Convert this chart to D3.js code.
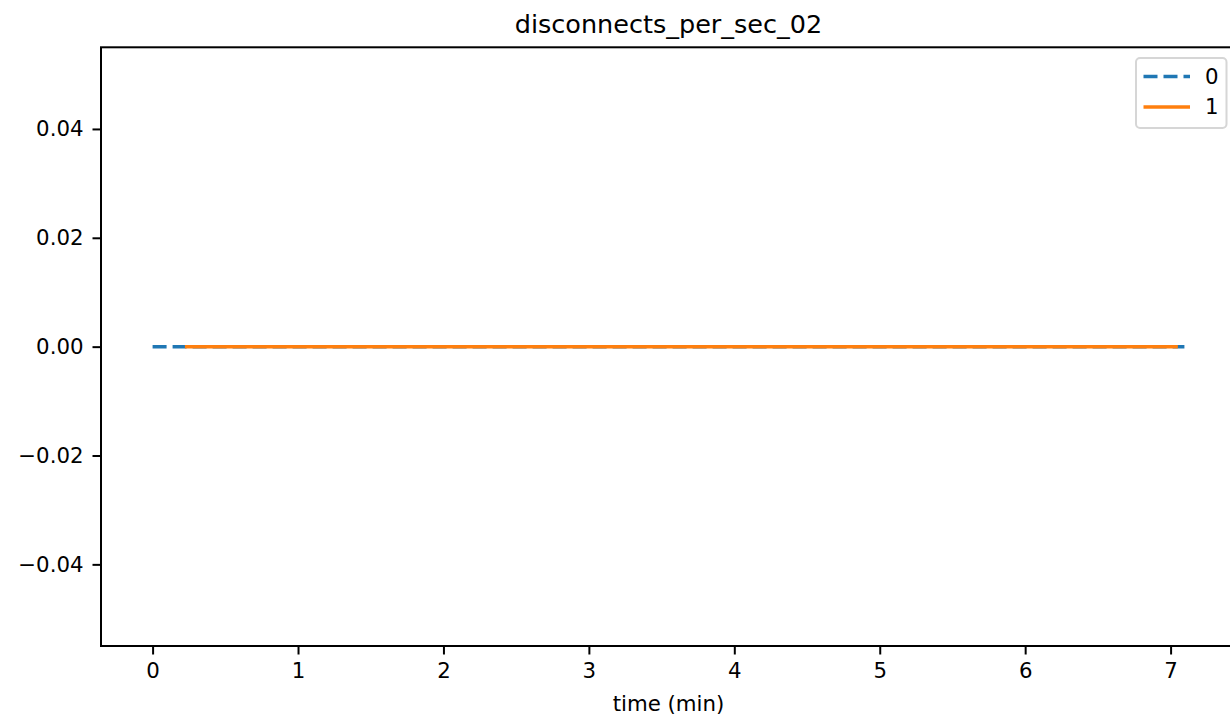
<!DOCTYPE html>
<html>
<head>
<meta charset="utf-8">
<script src="https://cdn.jsdelivr.net/npm/d3@7"></script>
<style>
  html, body { margin: 0; padding: 0; background: #fff; }
  svg { display: block; font-family: "DejaVu Sans", sans-serif; }
</style>
</head>
<body>
<svg id="chart" width="1230" height="719"></svg>
<script>
// ---- data ----
const title = "disconnects_per_sec_02";
const xLabel = "time (min)";
const seriesNames = ["0", "1"];
const series0Time = [0, 0.5, 1, 1.5, 2, 2.5, 3, 3.5, 4, 4.5, 5, 5.5, 6, 6.5, 7, 7.095];
const series0Values = [0, 0, 0, 0, 0, 0, 0, 0, 0, 0, 0, 0, 0, 0, 0, 0];
const series1Time = [0.222, 0.5, 1, 1.5, 2, 2.5, 3, 3.5, 4, 4.5, 5, 5.5, 6, 6.5, 7, 7.05];
const series1Values = [0, 0, 0, 0, 0, 0, 0, 0, 0, 0, 0, 0, 0, 0, 0, 0];
const xTicks = [0, 1, 2, 3, 4, 5, 6, 7];
const yTicks = [-0.04, -0.02, 0.00, 0.02, 0.04];
const xDomain = [-0.35475, 7.44975];
const yDomain = [-0.055, 0.055];

// ---- layout ----
const svg = d3.select("#chart");
const L = 101, R = 1236, T = 47.3, B = 646;
const x = d3.scaleLinear().domain(xDomain).range([L, R]);
const y = d3.scaleLinear().domain(yDomain).range([B, T]);

const colors = ["#1f77b4", "#ff7f0e"];
const data = [
  series0Time.map((t, i) => ({t, v: series0Values[i]})),
  series1Time.map((t, i) => ({t, v: series1Values[i]}))
];
const dashes = ["14,6", null];

const line = d3.line().x(d => x(d.t)).y(d => y(d.v));

svg.append("defs").append("clipPath").attr("id", "clip")
  .append("rect").attr("x", L).attr("y", T).attr("width", R - L).attr("height", B - T);

const plot = svg.append("g").attr("clip-path", "url(#clip)");
data.forEach((d, i) => {
  plot.append("path")
    .datum(d)
    .attr("d", line)
    .attr("fill", "none")
    .attr("stroke", colors[i])
    .attr("stroke-width", 3.5)
    .attr("stroke-dasharray", dashes[i])
    .attr("stroke-linecap", "butt");
});

// axes
const fmtY = v => (v < 0 ? "\u2212" : "") + Math.abs(v).toFixed(2);
const xAxis = d3.axisBottom(x).tickValues(xTicks).tickFormat(d3.format("d")).tickSize(8.5).tickPadding(8);
const yAxis = d3.axisLeft(y).tickValues(yTicks).tickFormat(fmtY).tickSize(8.5).tickPadding(9);

const gx = svg.append("g").attr("transform", `translate(0,${B})`).call(xAxis);
const gy = svg.append("g").attr("transform", `translate(${L},0)`).call(yAxis);
[gx, gy].forEach(g => {
  g.select(".domain").remove();
  g.selectAll(".tick line").attr("stroke", "#000").attr("stroke-width", 2);
  g.selectAll(".tick text").attr("fill", "#000").style("font-size", "21.3px").style("font-family", "DejaVu Sans");
});

// spines
svg.append("rect").attr("x", L).attr("y", T).attr("width", R - L).attr("height", B - T)
  .attr("fill", "none").attr("stroke", "#000").attr("stroke-width", 2);

// title & label
svg.append("text").attr("x", (L + R) / 2).attr("y", 32.5).attr("text-anchor", "middle")
  .style("font-size", "25.5px").attr("fill", "#000").text(title);
svg.append("text").attr("x", (L + R) / 2).attr("y", 711).attr("text-anchor", "middle")
  .style("font-size", "21.3px").attr("fill", "#000").text(xLabel);

// legend
const lg = svg.append("g");
lg.append("rect").attr("x", 1136).attr("y", 58).attr("width", 90.5).attr("height", 70)
  .attr("rx", 4).attr("fill", "#fff").attr("fill-opacity", 0.8)
  .attr("stroke", "#d6d6d6").attr("stroke-width", 2);
seriesNames.forEach((name, i) => {
  const yy = 76.5 + i * 30.5;
  lg.append("line").attr("x1", 1143.5).attr("x2", 1190).attr("y1", yy).attr("y2", yy)
    .attr("stroke", colors[i]).attr("stroke-width", 3.5).attr("stroke-dasharray", dashes[i]);
  lg.append("text").attr("x", 1205).attr("y", yy).attr("dy", "0.35em")
    .style("font-size", "21.3px").attr("fill", "#000").text(name);
});
</script>
</body>
</html>
